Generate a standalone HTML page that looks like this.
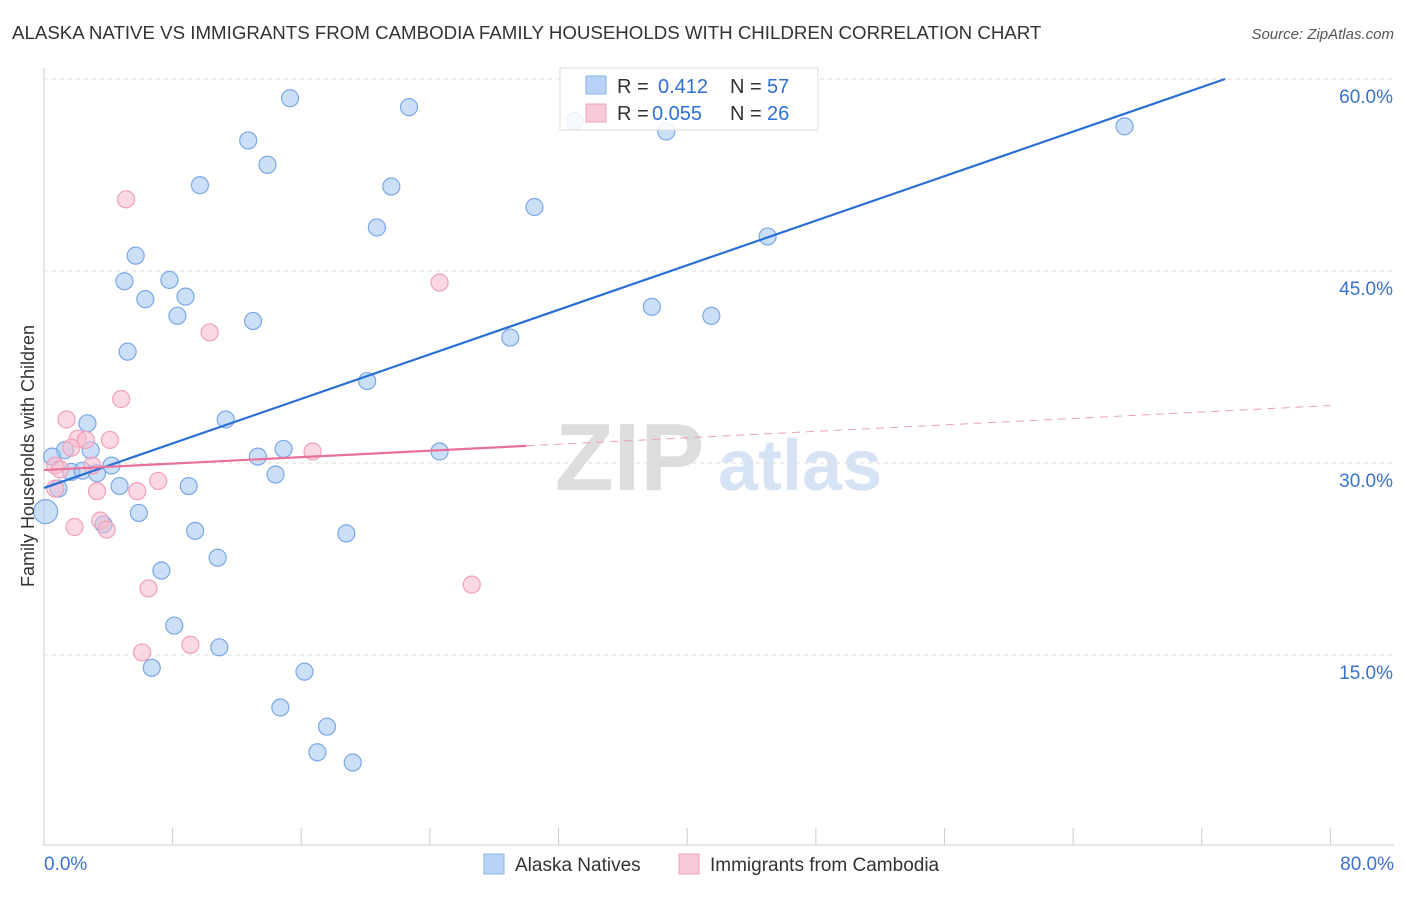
<!DOCTYPE html>
<html><head><meta charset="utf-8"><style>
body{margin:0;background:#fff;font-family:"Liberation Sans",sans-serif;}
svg text{font-family:"Liberation Sans",sans-serif;}
</style></head><body>
<svg id="chart" width="1406" height="892" viewBox="0 0 1406 892" xmlns="http://www.w3.org/2000/svg">
<text x="12" y="39" font-size="18.7" fill="#333">ALASKA NATIVE VS IMMIGRANTS FROM CAMBODIA FAMILY HOUSEHOLDS WITH CHILDREN CORRELATION CHART</text>
<text x="1394" y="39" font-size="15" fill="#555" text-anchor="end" font-style="italic">Source: ZipAtlas.com</text>
<g>
<text x="555" y="490" font-size="96" fill="#ddd" font-family="Liberation Serif" font-weight="bold">ZIP</text>
<text x="718" y="490" font-size="72" fill="#d6e3f5" font-weight="bold">atlas</text>
</g>
<g id="grid"></g>
<g id="axes"></g>
<g id="marks"></g>
<text transform="translate(34,456) rotate(-90)" font-size="18" fill="#333" text-anchor="middle">Family Households with Children</text>
<g>
<rect x="560" y="68" width="258" height="62" fill="rgba(255,255,255,0.85)" stroke="#ddd"/>
<rect x="586" y="76" width="20" height="18" fill="#b8d3f5" stroke="#8ab4e8"/>
<text x="617" y="93" font-size="20" fill="#333">R = </text><text x="658" y="93" font-size="20" fill="#2f6fd6">0.412</text>
<text x="730" y="93" font-size="20" fill="#333">N = </text><text x="767" y="93" font-size="20" fill="#2f6fd6">57</text>
<rect x="586" y="104" width="20" height="18" fill="#f9cbd8" stroke="#f0a0b8"/>
<text x="617" y="120" font-size="20" fill="#333">R = </text><text x="652" y="120" font-size="20" fill="#2f6fd6">0.055</text>
<text x="730" y="120" font-size="20" fill="#333">N = </text><text x="767" y="120" font-size="20" fill="#2f6fd6">26</text>
</g>
<g>
<rect x="484" y="854" width="20" height="20" fill="#b8d3f5" stroke="#8ab4e8"/>
<text x="515" y="871" font-size="19" fill="#333">Alaska Natives</text>
<rect x="679" y="854" width="20" height="20" fill="#f9cbd8" stroke="#f0a0b8"/>
<text x="710" y="871" font-size="19" fill="#333">Immigrants from Cambodia</text>
</g>
</svg>
<script>
const blueX=[15.3,12.7,13.9,9.7,22.7,21.6,20.7,30.5,38.7,67.2,45.0,5.7,5.0,7.8,6.3,8.8,8.3,13.0,37.8,41.5,5.2,29.0,20.1,11.3,2.7,1.3,0.5,2.9,14.9,13.3,24.6,1.7,2.4,3.3,4.2,14.4,4.7,9.0,0.9,0.1,5.9,3.7,9.4,18.8,10.8,7.3,8.1,10.9,6.7,16.2,14.7,17.6,17.0,19.2,33.0];
const blueY=[58.5,55.2,53.3,51.7,57.8,51.6,48.4,50.0,55.9,56.3,47.7,46.2,44.2,44.3,42.8,43.0,41.5,41.1,42.2,41.5,38.7,39.8,36.4,33.4,33.1,31.0,30.5,31.0,31.1,30.5,30.9,29.3,29.4,29.2,29.8,29.1,28.2,28.2,28.0,26.2,26.1,25.2,24.7,24.5,22.6,21.6,17.3,15.6,14.0,13.7,10.9,9.4,7.4,6.6,56.7];
const pinkX=[5.1,24.6,10.3,4.8,1.4,2.1,2.6,4.1,1.7,16.7,0.7,1.0,3.0,7.1,3.3,5.8,0.7,1.9,3.5,3.9,6.5,26.6,6.1,9.1];
const pinkY=[50.6,44.1,40.2,35.0,33.4,31.9,31.8,31.8,31.2,30.9,29.8,29.5,29.8,28.6,27.8,27.8,28.0,25.0,25.5,24.8,20.2,20.5,15.2,15.8];
const yTicks=[15,30,45,60];
const yTickLabels=["15.0%","30.0%","45.0%","60.0%"];
const xTicks=[8,16,24,32,40,48,56,64,72,80];
const blueTrend=[28.05,0.435];
const pinkTrend=[29.45,0.063];
const sx=v=>44+v*16.08, sy=v=>847-v*12.8;
const NS="http://www.w3.org/2000/svg";
function mk(p,t,a){const e=document.createElementNS(NS,t);for(const k in a)e.setAttribute(k,a[k]);document.getElementById(p).appendChild(e);return e;}
yTicks.forEach((t,i)=>{
 const l=mk('grid','line',{x1:44,x2:1394,y1:sy(t),y2:sy(t),stroke:'#ddd','stroke-dasharray':'4,4'});
 
 
 const tx=mk('axes','text',{x:1393,y:sy(t)+24,'font-size':19,fill:'#3a72d0','text-anchor':'end'});
 tx.textContent=yTickLabels[i];
 
 
});
const ax=mk('axes','line',{x1:44,x2:44,y1:68,y2:846,stroke:'#ccc'});


const bx=mk('axes','line',{x1:44,x2:1394,y1:845,y2:845,stroke:'#ccc'});


xTicks.forEach(t=>{const l=mk('axes','line',{x1:sx(t),x2:sx(t),y1:828,y2:845,stroke:'#ccc'});
 
 });
const x0=mk('axes','text',{x:44,y:870,'font-size':19,fill:'#3a72d0'});x0.textContent='0.0%';


const x1=mk('axes','text',{x:1394,y:870,'font-size':19,fill:'#3a72d0','text-anchor':'end'});x1.textContent='80.0%';


blueX.forEach((x,i)=>{const c=mk('marks','circle',{cx:sx(x),cy:sy(blueY[i]),r:(x<0.5?12:8.5),fill:'rgba(160,196,240,0.55)',stroke:'#7aa8e6','stroke-width':1.2});
 
 });
pinkX.forEach((x,i)=>{const c=mk('marks','circle',{cx:sx(x),cy:sy(pinkY[i]),r:8.5,fill:'rgba(248,185,205,0.55)',stroke:'#f0a0b8','stroke-width':1.2});
 
 });
const xe=(60-blueTrend[0])/blueTrend[1];
const bt=mk('marks','line',{x1:sx(0),y1:sy(blueTrend[0]),x2:sx(xe),y2:sy(60),stroke:'#2a6fd6','stroke-width':2.2});


const pt=mk('marks','line',{x1:sx(0),y1:sy(pinkTrend[0]),x2:sx(30),y2:sy(pinkTrend[0]+30*pinkTrend[1]),stroke:'#e8709a','stroke-width':2.2});


const pd=mk('marks','line',{x1:sx(30),y1:sy(pinkTrend[0]+30*pinkTrend[1]),x2:sx(80),y2:sy(pinkTrend[0]+80*pinkTrend[1]),stroke:'#e8a0b8','stroke-width':1,'stroke-dasharray':'8,6'});


</script>
</body></html>
